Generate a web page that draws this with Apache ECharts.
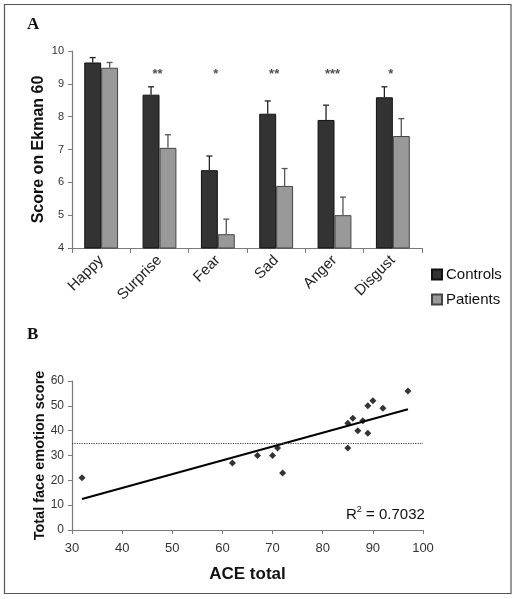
<!DOCTYPE html>
<html>
<head>
<meta charset="utf-8">
<script src="https://cdn.jsdelivr.net/npm/echarts@6/dist/echarts.min.js"></script>
<style>
  html, body { margin: 0; padding: 0; background: #fff; }
  #chart { width: 516px; height: 599px; }
</style>
</head>
<body>
<div id="chart"></div>
<script>
// ---- Panel A data ----
const emotions = ['Happy', 'Surprise', 'Fear', 'Sad', 'Anger', 'Disgust'];
const controlsMean = [9.65, 8.67, 6.37, 8.09, 7.90, 8.59];
const controlsSE   = [0.15, 0.24, 0.43, 0.39, 0.45, 0.32];
const patientsMean = [9.49, 7.05, 4.42, 5.89, 5.00, 7.41];
const patientsSE   = [0.16, 0.40, 0.46, 0.53, 0.55, 0.53];
const significance = ['', '**', '*', '**', '***', '*'];
const starLevel = 9.3;
const yTicksA = { min: 4, max: 10, interval: 1 };

// ---- Panel B data ----
const aceTotal  = [32, 62, 67, 70, 71, 72, 85, 85, 86, 87, 88, 89, 89, 90, 92, 97];
const faceScore = [21, 27, 30, 30, 33, 23, 33, 43, 45, 40, 44, 50, 39, 52, 49, 56];
const trendX = [32, 97];
const trendY = [12.5, 48.6];
const cutoffScore = 35;
const cutoffX = [30, 100];
const rSquared = '0.7032';
const xTicksB = { min: 30, max: 100, interval: 10 };
const yTicksB = { min: 0, max: 60, interval: 10 };

const FONT = 'Liberation Sans, Arial, sans-serif';
const AXIS_COLOR = '#7a7a7a';
const CAT_GAP = 0.42;

function errorBarSeries(name, means, ses, side, color) {
  return {
    type: 'custom',
    name: name + ' SE',
    xAxisIndex: 0, yAxisIndex: 0,
    z: 5,
    data: means.map((m, i) => [i, m, m + ses[i]]),
    renderItem: function (params, api) {
      const idx = api.value(0);
      const base = api.coord([idx, api.value(1)]);
      const top = api.coord([idx, api.value(2)]);
      const band = api.size([1, 0])[0];
      const barW = band * (1 - CAT_GAP) / 2;
      const x = base[0] + side * barW / 2;
      const cap = 3;
      const style = { stroke: color, lineWidth: 1.3 };
      return {
        type: 'group',
        children: [
          { type: 'line', shape: { x1: x, y1: base[1], x2: x, y2: top[1] }, style: style },
          { type: 'line', shape: { x1: x - cap, y1: top[1], x2: x + cap, y2: top[1] }, style: style }
        ]
      };
    }
  };
}

const chart = echarts.init(document.getElementById('chart'), null, { renderer: 'canvas' });

const option = {
  animation: false,
  backgroundColor: '#ffffff',
  textStyle: { fontFamily: FONT },
  graphic: [
    { type: 'rect', shape: { x: 4.5, y: 4.5, width: 506.5, height: 589 },
      style: { fill: 'none', stroke: '#555', lineWidth: 1.2 }, silent: true, z: -1 },
    { type: 'text', left: 27, top: 16,
      style: { text: 'A', font: 'bold 17px Liberation Serif, Times New Roman, serif', fill: '#111' } },
    { type: 'text', left: 27, top: 326,
      style: { text: 'B', font: 'bold 17px Liberation Serif, Times New Roman, serif', fill: '#111' } },
    { type: 'text', left: 346, top: 505,
      style: {
        text: '{r|R}{s|2}{r| = ' + rSquared + '}',
        rich: {
          r: { fontSize: 15, fontFamily: FONT, fill: '#111', verticalAlign: 'bottom' },
          s: { fontSize: 9, fontFamily: FONT, fill: '#111', verticalAlign: 'top', padding: [0, 0, 8, 0] }
        }
      } }
  ],
  legend: {
    data: ['Controls', 'Patients'],
    orient: 'vertical',
    left: 426, top: 262,
    itemWidth: 10, itemHeight: 10, itemGap: 10,
    icon: 'rect',
    textStyle: { fontSize: 15, color: '#111', fontFamily: FONT, padding: [0, 0, 0, -1] }
  },
  grid: [
    { left: 72, right: 94, top: 51, bottom: 351 },
    { left: 72, right: 93, top: 381, bottom: 69 }
  ],
  xAxis: [
    {
      type: 'category', gridIndex: 0, data: emotions,
      axisLine: { lineStyle: { color: AXIS_COLOR, width: 1.2 } },
      axisTick: { show: true, alignWithLabel: false, length: 5, lineStyle: { color: AXIS_COLOR } },
      axisLabel: { rotate: 45, fontSize: 15, color: '#222', margin: 10, fontFamily: FONT, interval: 0 }
    },
    {
      type: 'value', gridIndex: 1, min: xTicksB.min, max: xTicksB.max, interval: xTicksB.interval,
      name: 'ACE total', nameLocation: 'middle', nameGap: 36,
      nameTextStyle: { fontSize: 17, fontWeight: 'bold', color: '#111', fontFamily: FONT },
      splitLine: { show: false },
      axisLine: { lineStyle: { color: AXIS_COLOR, width: 1.2 } },
      axisTick: { length: 4, lineStyle: { color: AXIS_COLOR } },
      axisLabel: { fontSize: 13, color: '#333', margin: 12, fontFamily: FONT }
    }
  ],
  yAxis: [
    {
      type: 'value', gridIndex: 0, min: yTicksA.min, max: yTicksA.max, interval: yTicksA.interval,
      name: 'Score on Ekman 60', nameLocation: 'middle', nameGap: 25, nameMoveOverlap: false,
      nameTextStyle: { fontSize: 16, fontWeight: 'bold', color: '#111', fontFamily: FONT },
      splitLine: { show: false },
      axisLine: { show: true, lineStyle: { color: AXIS_COLOR, width: 1.2 } },
      axisTick: { show: true, length: 4, lineStyle: { color: AXIS_COLOR } },
      axisLabel: { fontSize: 11, color: '#333', margin: 8, fontFamily: FONT }
    },
    {
      type: 'value', gridIndex: 1, min: yTicksB.min, max: yTicksB.max, interval: yTicksB.interval,
      name: 'Total face emotion score', nameLocation: 'middle', nameGap: 25, nameMoveOverlap: false,
      nameTextStyle: { fontSize: 14.5, fontWeight: 'bold', color: '#111', fontFamily: FONT },
      splitLine: { show: false },
      axisLine: { show: true, lineStyle: { color: AXIS_COLOR, width: 1.2 } },
      axisTick: { show: true, length: 4, lineStyle: { color: AXIS_COLOR } },
      axisLabel: { fontSize: 12, color: '#333', margin: 8, fontFamily: FONT }
    }
  ],
  series: [
    {
      type: 'bar', name: 'Controls', xAxisIndex: 0, yAxisIndex: 0,
      data: controlsMean, barGap: '0%', barCategoryGap: (CAT_GAP * 100) + '%',
      itemStyle: { color: '#333333', borderColor: '#111', borderWidth: 1 }
    },
    {
      type: 'bar', name: 'Patients', xAxisIndex: 0, yAxisIndex: 0,
      data: patientsMean, barGap: '0%', barCategoryGap: (CAT_GAP * 100) + '%',
      itemStyle: { color: '#999999', borderColor: '#444', borderWidth: 1 }
    },
    errorBarSeries('Controls', controlsMean, controlsSE, -1, '#222'),
    errorBarSeries('Patients', patientsMean, patientsSE, 1, '#555'),
    {
      type: 'scatter', name: 'sig', xAxisIndex: 0, yAxisIndex: 0,
      symbolSize: 0, silent: true,
      data: significance.map((s, i) => ({ value: [i, starLevel], label: { formatter: s } })),
      label: { show: true, position: 'inside', offset: [-2, 0], fontSize: 13, fontWeight: 'bold', color: '#222', fontFamily: FONT }
    },
    {
      type: 'scatter', name: 'ACE', xAxisIndex: 1, yAxisIndex: 1,
      symbol: 'diamond', symbolSize: 7,
      itemStyle: { color: '#000' },
      data: aceTotal.map((x, i) => [x, faceScore[i]]),
      markLine: {
        silent: true, symbol: 'none', label: { show: false },
        lineStyle: { type: 'dotted', color: '#444', width: 1.2 },
        data: [[{ coord: [cutoffX[0], cutoffScore] }, { coord: [cutoffX[1], cutoffScore] }]]
      }
    },
    {
      type: 'line', name: 'trend', xAxisIndex: 1, yAxisIndex: 1,
      showSymbol: false, symbol: 'none', silent: true,
      lineStyle: { color: '#000', width: 2 },
      data: trendX.map((x, i) => [x, trendY[i]])
    }
  ]
};

chart.setOption(option);
</script>
</body>
</html>
